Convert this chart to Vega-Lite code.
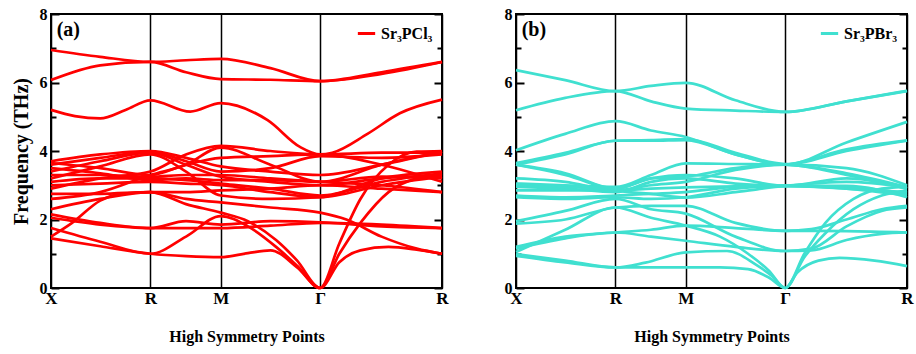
{
"$schema": "https://vega.github.io/schema/vega-lite/v6.json",
"padding": {"left": 10, "top": 5, "right": 5, "bottom": 5},
"background": "white",
"config": {
  "view": {"stroke": "black", "strokeWidth": 2},
  "font": "Liberation Serif",
  "axis": {"labelFont": "Liberation Serif", "labelFontWeight": "bold", "titleFont": "Liberation Serif", "titleFontWeight": "bold", "labelColor": "black", "titleColor": "black", "tickColor": "black", "domain": false},
  "legend": {"labelFont": "Liberation Serif", "labelFontWeight": "bold", "labelColor": "black"}
},
"datasets": {
"a": [
{"b":1,"k":0,"f":1.45},{"b":1,"k":0.35,"f":1.22},{"b":1,"k":0.707,"f":1.0},{"b":1,"k":0.96,"f":0.93},{"b":1,"k":1.207,"f":0.9},{"b":1,"k":1.4,"f":1.02},{"b":1,"k":1.56,"f":1.1},{"b":1,"k":1.75,"f":0.6},{"b":1,"k":1.914,"f":0},{"b":1,"k":2.05,"f":0.75},{"b":1,"k":2.2,"f":1.1},{"b":1,"k":2.4,"f":1.2},{"b":1,"k":2.6,"f":1.12},{"b":1,"k":2.78,"f":1.0},
{"b":2,"k":0,"f":1.75},{"b":2,"k":0.35,"f":1.35},{"b":2,"k":0.707,"f":1.0},{"b":2,"k":0.96,"f":1.5},{"b":2,"k":1.207,"f":2.1},{"b":2,"k":1.4,"f":1.8},{"b":2,"k":1.6,"f":1.2},{"b":2,"k":1.75,"f":0.65},{"b":2,"k":1.914,"f":0},{"b":2,"k":2.05,"f":1.0},{"b":2,"k":2.2,"f":1.9},{"b":2,"k":2.4,"f":2.8},{"b":2,"k":2.6,"f":3.2},{"b":2,"k":2.78,"f":3.3},
{"b":3,"k":0,"f":1.5},{"b":3,"k":0.15,"f":1.9},{"b":3,"k":0.35,"f":2.55},{"b":3,"k":0.5,"f":2.75},{"b":3,"k":0.707,"f":2.8},{"b":3,"k":0.96,"f":2.45},{"b":3,"k":1.207,"f":2.2},{"b":3,"k":1.4,"f":1.95},{"b":3,"k":1.6,"f":1.4},{"b":3,"k":1.75,"f":0.8},{"b":3,"k":1.914,"f":0},{"b":3,"k":2.05,"f":1.3},{"b":3,"k":2.2,"f":2.6},{"b":3,"k":2.4,"f":3.6},{"b":3,"k":2.6,"f":3.98},{"b":3,"k":2.78,"f":4.0},
{"b":4,"k":0,"f":2.05},{"b":4,"k":0.35,"f":1.85},{"b":4,"k":0.707,"f":1.75},{"b":4,"k":0.96,"f":1.75},{"b":4,"k":1.207,"f":1.75},{"b":4,"k":1.56,"f":1.82},{"b":4,"k":1.914,"f":1.9},{"b":4,"k":2.35,"f":1.85},{"b":4,"k":2.78,"f":1.75},
{"b":5,"k":0,"f":2.15},{"b":5,"k":0.35,"f":1.9},{"b":5,"k":0.707,"f":1.75},{"b":5,"k":0.96,"f":1.95},{"b":5,"k":1.207,"f":1.85},{"b":5,"k":1.56,"f":1.95},{"b":5,"k":1.914,"f":1.92},{"b":5,"k":2.35,"f":1.8},{"b":5,"k":2.78,"f":1.75},
{"b":6,"k":0,"f":2.3},{"b":6,"k":0.35,"f":2.6},{"b":6,"k":0.707,"f":2.8},{"b":6,"k":0.96,"f":2.6},{"b":6,"k":1.207,"f":2.5},{"b":6,"k":1.56,"f":2.35},{"b":6,"k":1.914,"f":2.2},{"b":6,"k":2.1,"f":2.0},{"b":6,"k":2.35,"f":1.5},{"b":6,"k":2.6,"f":1.15},{"b":6,"k":2.78,"f":1.0},
{"b":7,"k":0,"f":2.6},{"b":7,"k":0.35,"f":2.8},{"b":7,"k":0.707,"f":3.3},{"b":7,"k":0.96,"f":3.6},{"b":7,"k":1.207,"f":4.1},{"b":7,"k":1.56,"f":3.6},{"b":7,"k":1.914,"f":3.1},{"b":7,"k":2.35,"f":3.6},{"b":7,"k":2.78,"f":3.98},
{"b":8,"k":0,"f":2.75},{"b":8,"k":0.35,"f":2.75},{"b":8,"k":0.707,"f":2.8},{"b":8,"k":0.96,"f":2.8},{"b":8,"k":1.207,"f":2.85},{"b":8,"k":1.56,"f":2.9},{"b":8,"k":1.914,"f":3.0},{"b":8,"k":2.35,"f":2.9},{"b":8,"k":2.78,"f":2.8},
{"b":9,"k":0,"f":2.9},{"b":9,"k":0.35,"f":3.2},{"b":9,"k":0.707,"f":3.4},{"b":9,"k":0.96,"f":3.9},{"b":9,"k":1.207,"f":4.15},{"b":9,"k":1.56,"f":4.0},{"b":9,"k":1.914,"f":3.9},{"b":9,"k":2.35,"f":3.95},{"b":9,"k":2.78,"f":3.95},
{"b":10,"k":0,"f":3.0},{"b":10,"k":0.35,"f":3.05},{"b":10,"k":0.707,"f":3.1},{"b":10,"k":0.96,"f":3.05},{"b":10,"k":1.207,"f":3.0},{"b":10,"k":1.56,"f":2.8},{"b":10,"k":1.914,"f":2.65},{"b":10,"k":2.35,"f":3.0},{"b":10,"k":2.78,"f":3.25},
{"b":11,"k":0,"f":3.1},{"b":11,"k":0.35,"f":3.2},{"b":11,"k":0.707,"f":3.2},{"b":11,"k":0.96,"f":3.15},{"b":11,"k":1.207,"f":3.05},{"b":11,"k":1.56,"f":2.9},{"b":11,"k":1.914,"f":2.7},{"b":11,"k":2.35,"f":3.1},{"b":11,"k":2.78,"f":3.35},
{"b":12,"k":0,"f":3.2},{"b":12,"k":0.35,"f":3.55},{"b":12,"k":0.707,"f":3.9},{"b":12,"k":0.96,"f":3.4},{"b":12,"k":1.207,"f":2.7},{"b":12,"k":1.56,"f":2.6},{"b":12,"k":1.914,"f":2.65},{"b":12,"k":2.35,"f":3.2},{"b":12,"k":2.78,"f":3.4},
{"b":13,"k":0,"f":3.3},{"b":13,"k":0.35,"f":3.3},{"b":13,"k":0.707,"f":3.25},{"b":13,"k":0.96,"f":3.3},{"b":13,"k":1.207,"f":3.3},{"b":13,"k":1.56,"f":3.2},{"b":13,"k":1.914,"f":3.1},{"b":13,"k":2.35,"f":3.0},{"b":13,"k":2.78,"f":2.8},
{"b":14,"k":0,"f":3.4},{"b":14,"k":0.35,"f":3.7},{"b":14,"k":0.707,"f":3.95},{"b":14,"k":0.96,"f":3.6},{"b":14,"k":1.207,"f":3.25},{"b":14,"k":1.56,"f":3.1},{"b":14,"k":1.914,"f":3.0},{"b":14,"k":2.35,"f":3.2},{"b":14,"k":2.78,"f":3.3},
{"b":15,"k":0,"f":3.5},{"b":15,"k":0.35,"f":3.35},{"b":15,"k":0.707,"f":3.15},{"b":15,"k":0.96,"f":3.2},{"b":15,"k":1.207,"f":3.15},{"b":15,"k":1.56,"f":3.15},{"b":15,"k":1.914,"f":3.1},{"b":15,"k":2.35,"f":3.25},{"b":15,"k":2.78,"f":3.2},
{"b":16,"k":0,"f":3.6},{"b":16,"k":0.35,"f":3.8},{"b":16,"k":0.707,"f":3.98},{"b":16,"k":0.96,"f":3.7},{"b":16,"k":1.207,"f":3.4},{"b":16,"k":1.56,"f":3.5},{"b":16,"k":1.914,"f":3.85},{"b":16,"k":2.35,"f":3.8},{"b":16,"k":2.78,"f":3.9},
{"b":17,"k":0,"f":3.65},{"b":17,"k":0.35,"f":3.5},{"b":17,"k":0.707,"f":3.3},{"b":17,"k":0.96,"f":3.6},{"b":17,"k":1.207,"f":3.8},{"b":17,"k":1.56,"f":3.85},{"b":17,"k":1.914,"f":3.9},{"b":17,"k":2.35,"f":3.6},{"b":17,"k":2.78,"f":3.1},
{"b":18,"k":0,"f":3.7},{"b":18,"k":0.35,"f":3.9},{"b":18,"k":0.707,"f":4.0},{"b":18,"k":0.96,"f":3.8},{"b":18,"k":1.207,"f":3.55},{"b":18,"k":1.56,"f":3.4},{"b":18,"k":1.914,"f":3.3},{"b":18,"k":2.35,"f":3.6},{"b":18,"k":2.78,"f":3.98},
{"b":19,"k":0,"f":5.2},{"b":19,"k":0.17,"f":5.02},{"b":19,"k":0.35,"f":4.95},{"b":19,"k":0.53,"f":5.2},{"b":19,"k":0.707,"f":5.48},{"b":19,"k":0.99,"f":5.15},{"b":19,"k":1.207,"f":5.4},{"b":19,"k":1.54,"f":4.9},{"b":19,"k":1.77,"f":4.12},{"b":19,"k":1.914,"f":3.9},{"b":19,"k":2.0,"f":3.95},{"b":19,"k":2.25,"f":4.5},{"b":19,"k":2.48,"f":5.1},{"b":19,"k":2.78,"f":5.5},
{"b":20,"k":0,"f":6.07},{"b":20,"k":0.35,"f":6.5},{"b":20,"k":0.707,"f":6.6},{"b":20,"k":0.96,"f":6.3},{"b":20,"k":1.207,"f":6.1},{"b":20,"k":1.56,"f":6.08},{"b":20,"k":1.914,"f":6.04},{"b":20,"k":2.35,"f":6.25},{"b":20,"k":2.78,"f":6.6},
{"b":21,"k":0,"f":6.95},{"b":21,"k":0.35,"f":6.75},{"b":21,"k":0.707,"f":6.6},{"b":21,"k":0.96,"f":6.65},{"b":21,"k":1.207,"f":6.69},{"b":21,"k":1.56,"f":6.42},{"b":21,"k":1.914,"f":6.04},{"b":21,"k":2.35,"f":6.3},{"b":21,"k":2.78,"f":6.6}
],
"b": [
{"b":1,"k":0,"f":0.94},{"b":1,"k":0.35,"f":0.75},{"b":1,"k":0.707,"f":0.6},{"b":1,"k":0.96,"f":0.6},{"b":1,"k":1.207,"f":0.6},{"b":1,"k":1.45,"f":0.6},{"b":1,"k":1.65,"f":0.55},{"b":1,"k":1.8,"f":0.3},{"b":1,"k":1.914,"f":0},{"b":1,"k":2.0,"f":0.45},{"b":1,"k":2.15,"f":0.8},{"b":1,"k":2.3,"f":0.88},{"b":1,"k":2.55,"f":0.8},{"b":1,"k":2.78,"f":0.64},
{"b":2,"k":0,"f":0.99},{"b":2,"k":0.35,"f":0.8},{"b":2,"k":0.707,"f":0.6},{"b":2,"k":0.92,"f":0.74},{"b":2,"k":1.207,"f":1.04},{"b":2,"k":1.5,"f":1.08},{"b":2,"k":1.7,"f":0.7},{"b":2,"k":1.82,"f":0.35},{"b":2,"k":1.914,"f":0},{"b":2,"k":2.05,"f":0.9},{"b":2,"k":2.2,"f":1.6},{"b":2,"k":2.4,"f":2.3},{"b":2,"k":2.6,"f":2.7},{"b":2,"k":2.78,"f":2.85},
{"b":3,"k":0,"f":1.05},{"b":3,"k":0.35,"f":1.7},{"b":3,"k":0.707,"f":2.35},{"b":3,"k":0.96,"f":2.05},{"b":3,"k":1.207,"f":1.82},{"b":3,"k":1.45,"f":1.5},{"b":3,"k":1.65,"f":1.0},{"b":3,"k":1.8,"f":0.5},{"b":3,"k":1.914,"f":0},{"b":3,"k":2.05,"f":1.0},{"b":3,"k":2.2,"f":1.9},{"b":3,"k":2.4,"f":2.6},{"b":3,"k":2.6,"f":2.9},{"b":3,"k":2.78,"f":2.95},
{"b":4,"k":0,"f":1.15},{"b":4,"k":0.35,"f":1.45},{"b":4,"k":0.707,"f":1.62},{"b":4,"k":0.96,"f":1.5},{"b":4,"k":1.207,"f":1.38},{"b":4,"k":1.56,"f":1.2},{"b":4,"k":1.914,"f":1.08},{"b":4,"k":2.1,"f":1.1},{"b":4,"k":2.35,"f":1.4},{"b":4,"k":2.6,"f":1.58},{"b":4,"k":2.78,"f":1.62},
{"b":5,"k":0,"f":1.2},{"b":5,"k":0.35,"f":1.5},{"b":5,"k":0.707,"f":1.62},{"b":5,"k":0.96,"f":1.7},{"b":5,"k":1.207,"f":1.82},{"b":5,"k":1.56,"f":1.75},{"b":5,"k":1.914,"f":1.67},{"b":5,"k":2.35,"f":1.66},{"b":5,"k":2.78,"f":1.62},
{"b":6,"k":0,"f":1.88},{"b":6,"k":0.35,"f":2.0},{"b":6,"k":0.707,"f":2.35},{"b":6,"k":0.96,"f":2.4},{"b":6,"k":1.207,"f":2.4},{"b":6,"k":1.56,"f":1.9},{"b":6,"k":1.914,"f":1.67},{"b":6,"k":2.1,"f":1.72},{"b":6,"k":2.35,"f":2.0},{"b":6,"k":2.6,"f":2.3},{"b":6,"k":2.78,"f":2.4},
{"b":7,"k":0,"f":1.95},{"b":7,"k":0.35,"f":2.25},{"b":7,"k":0.707,"f":2.6},{"b":7,"k":0.96,"f":2.3},{"b":7,"k":1.207,"f":2.17},{"b":7,"k":1.56,"f":1.5},{"b":7,"k":1.914,"f":1.08},{"b":7,"k":2.1,"f":1.15},{"b":7,"k":2.35,"f":1.8},{"b":7,"k":2.6,"f":2.25},{"b":7,"k":2.78,"f":2.35},
{"b":8,"k":0,"f":2.65},{"b":8,"k":0.35,"f":2.6},{"b":8,"k":0.707,"f":2.65},{"b":8,"k":0.96,"f":2.6},{"b":8,"k":1.207,"f":2.65},{"b":8,"k":1.56,"f":2.9},{"b":8,"k":1.914,"f":2.98},{"b":8,"k":2.35,"f":2.9},{"b":8,"k":2.78,"f":2.7},
{"b":9,"k":0,"f":2.7},{"b":9,"k":0.35,"f":2.65},{"b":9,"k":0.707,"f":2.7},{"b":9,"k":0.96,"f":2.75},{"b":9,"k":1.207,"f":2.8},{"b":9,"k":1.56,"f":2.95},{"b":9,"k":1.914,"f":2.98},{"b":9,"k":2.35,"f":2.95},{"b":9,"k":2.78,"f":2.75},
{"b":10,"k":0,"f":2.85},{"b":10,"k":0.35,"f":2.85},{"b":10,"k":0.707,"f":2.85},{"b":10,"k":0.96,"f":2.9},{"b":10,"k":1.207,"f":2.94},{"b":10,"k":1.56,"f":2.97},{"b":10,"k":1.914,"f":2.98},{"b":10,"k":2.35,"f":2.9},{"b":10,"k":2.78,"f":2.8},
{"b":11,"k":0,"f":2.95},{"b":11,"k":0.35,"f":2.9},{"b":11,"k":0.707,"f":2.8},{"b":11,"k":0.96,"f":3.1},{"b":11,"k":1.207,"f":3.2},{"b":11,"k":1.56,"f":3.05},{"b":11,"k":1.914,"f":2.98},{"b":11,"k":2.35,"f":3.2},{"b":11,"k":2.78,"f":2.9},
{"b":12,"k":0,"f":3.0},{"b":12,"k":0.35,"f":2.95},{"b":12,"k":0.707,"f":2.9},{"b":12,"k":0.96,"f":3.2},{"b":12,"k":1.207,"f":3.3},{"b":12,"k":1.56,"f":3.2},{"b":12,"k":1.914,"f":2.98},{"b":12,"k":2.35,"f":2.98},{"b":12,"k":2.78,"f":2.65},
{"b":13,"k":0,"f":3.05},{"b":13,"k":0.35,"f":3.0},{"b":13,"k":0.707,"f":2.95},{"b":13,"k":0.96,"f":3.3},{"b":13,"k":1.207,"f":3.64},{"b":13,"k":1.56,"f":3.62},{"b":13,"k":1.914,"f":3.6},{"b":13,"k":2.35,"f":3.35},{"b":13,"k":2.78,"f":2.95},
{"b":14,"k":0,"f":3.2},{"b":14,"k":0.35,"f":3.1},{"b":14,"k":0.707,"f":2.85},{"b":14,"k":0.96,"f":3.0},{"b":14,"k":1.207,"f":3.1},{"b":14,"k":1.56,"f":3.45},{"b":14,"k":1.914,"f":3.6},{"b":14,"k":2.35,"f":3.3},{"b":14,"k":2.78,"f":2.9},
{"b":15,"k":0,"f":3.6},{"b":15,"k":0.35,"f":3.3},{"b":15,"k":0.707,"f":2.85},{"b":15,"k":0.96,"f":2.75},{"b":15,"k":1.207,"f":2.64},{"b":15,"k":1.56,"f":2.8},{"b":15,"k":1.914,"f":2.98},{"b":15,"k":2.35,"f":3.1},{"b":15,"k":2.78,"f":2.95},
{"b":16,"k":0,"f":3.6},{"b":16,"k":0.35,"f":3.35},{"b":16,"k":0.707,"f":2.9},{"b":16,"k":0.96,"f":3.2},{"b":16,"k":1.207,"f":3.25},{"b":16,"k":1.56,"f":3.5},{"b":16,"k":1.914,"f":3.6},{"b":16,"k":2.35,"f":3.5},{"b":16,"k":2.78,"f":3.0},
{"b":17,"k":0,"f":3.6},{"b":17,"k":0.35,"f":3.9},{"b":17,"k":0.707,"f":4.3},{"b":17,"k":0.96,"f":4.3},{"b":17,"k":1.207,"f":4.32},{"b":17,"k":1.56,"f":3.9},{"b":17,"k":1.914,"f":3.6},{"b":17,"k":2.35,"f":4.0},{"b":17,"k":2.78,"f":4.3},
{"b":18,"k":0,"f":3.65},{"b":18,"k":0.35,"f":3.95},{"b":18,"k":0.707,"f":4.3},{"b":18,"k":0.96,"f":4.32},{"b":18,"k":1.207,"f":4.35},{"b":18,"k":1.56,"f":3.95},{"b":18,"k":1.914,"f":3.62},{"b":18,"k":2.35,"f":4.05},{"b":18,"k":2.78,"f":4.31},
{"b":19,"k":0,"f":4.02},{"b":19,"k":0.35,"f":4.5},{"b":19,"k":0.707,"f":4.87},{"b":19,"k":0.96,"f":4.6},{"b":19,"k":1.207,"f":4.41},{"b":19,"k":1.56,"f":3.9},{"b":19,"k":1.914,"f":3.6},{"b":19,"k":2.35,"f":4.25},{"b":19,"k":2.78,"f":4.85},
{"b":20,"k":0,"f":5.19},{"b":20,"k":0.35,"f":5.55},{"b":20,"k":0.707,"f":5.75},{"b":20,"k":0.96,"f":5.45},{"b":20,"k":1.207,"f":5.24},{"b":20,"k":1.56,"f":5.18},{"b":20,"k":1.914,"f":5.14},{"b":20,"k":2.35,"f":5.45},{"b":20,"k":2.78,"f":5.75},
{"b":21,"k":0,"f":6.36},{"b":21,"k":0.35,"f":6.07},{"b":21,"k":0.707,"f":5.75},{"b":21,"k":0.96,"f":5.9},{"b":21,"k":1.207,"f":5.99},{"b":21,"k":1.56,"f":5.48},{"b":21,"k":1.914,"f":5.14},{"b":21,"k":2.35,"f":5.45},{"b":21,"k":2.78,"f":5.76}
]
},
"hconcat": [
{
  "width": 391, "height": 274,
  "resolve": {"axis": {"y": "independent"}},
  "layer": [
    {
      "data": {"name": "a"},
      "mark": {"type": "line", "interpolate": "monotone", "strokeWidth": 2.7},
      "encoding": {
        "x": {"field": "k", "type": "quantitative", "scale": {"domain": [0, 2.78], "nice": false, "zero": false},
              "axis": {"values": [0, 0.707, 1.207, 1.914, 2.78], "labelExpr": "datum.value < 0.1 ? 'X' : datum.value < 1 ? 'R' : datum.value < 1.5 ? 'M' : datum.value < 2 ? 'Γ' : 'R'", "grid": true, "gridColor": "black", "gridWidth": 1.5, "gridOpacity": 1, "ticks": false, "labelFontSize": 17, "labelPadding": 2, "labelFlush": false, "title": "High Symmetry Points", "titleFontSize": 16, "titlePadding": 22}},
        "y": {"field": "f", "type": "quantitative", "scale": {"domain": [0, 8], "nice": false},
              "axis": {"orient": "left", "values": [0,1,2,3,4,5,6,7,8], "labelExpr": "datum.value % 2 == 0 ? datum.label : ''", "tickSize": {"condition": {"test": "datum.value % 2 == 0", "value": -8}, "value": -5}, "tickWidth": 2, "labelFontSize": 16, "labelPadding": 12, "grid": false, "title": "Frequency (THz)", "titleFontSize": 20, "titlePadding": 8}},
        "detail": {"field": "b", "type": "nominal"},
        "color": {"datum": "Sr₃PCl₃", "type": "nominal", "scale": {"range": ["#ff0000"]},
                  "legend": {"orient": "top-right", "title": null, "symbolType": "stroke", "symbolStrokeWidth": 3, "symbolSize": 300, "labelFontSize": 16, "offset": 9}}
      }
    },
    {
      "data": {"values": [{"k": 0.04, "f": 7.53, "t": "(a)"}]},
      "mark": {"type": "text", "align": "left", "baseline": "middle", "fontSize": 20, "fontWeight": "bold", "font": "Liberation Serif", "color": "black"},
      "encoding": {
        "x": {"field": "k", "type": "quantitative"},
        "y": {"field": "f", "type": "quantitative",
              "axis": {"orient": "right", "values": [0,1,2,3,4,5,6,7,8], "labels": false, "tickSize": {"condition": {"test": "datum.value % 2 == 0", "value": -8}, "value": -5}, "tickWidth": 2, "grid": false, "title": null}},
        "text": {"field": "t"}
      }
    }
  ]
},
{
  "width": 391, "height": 274,
  "resolve": {"axis": {"y": "independent"}},
  "layer": [
    {
      "data": {"name": "b"},
      "mark": {"type": "line", "interpolate": "monotone", "strokeWidth": 2.7},
      "encoding": {
        "x": {"field": "k", "type": "quantitative", "scale": {"domain": [0, 2.78], "nice": false, "zero": false},
              "axis": {"values": [0, 0.707, 1.207, 1.914, 2.78], "labelExpr": "datum.value < 0.1 ? 'X' : datum.value < 1 ? 'R' : datum.value < 1.5 ? 'M' : datum.value < 2 ? 'Γ' : 'R'", "grid": true, "gridColor": "black", "gridWidth": 1.5, "gridOpacity": 1, "ticks": false, "labelFontSize": 17, "labelPadding": 2, "labelFlush": false, "title": "High Symmetry Points", "titleFontSize": 16, "titlePadding": 22}},
        "y": {"field": "f", "type": "quantitative", "scale": {"domain": [0, 8], "nice": false},
              "axis": {"orient": "left", "values": [0,1,2,3,4,5,6,7,8], "labelExpr": "datum.value % 2 == 0 ? datum.label : ''", "tickSize": {"condition": {"test": "datum.value % 2 == 0", "value": -8}, "value": -5}, "tickWidth": 2, "labelFontSize": 16, "labelPadding": 12, "grid": false, "title": null}},
        "detail": {"field": "b", "type": "nominal"},
        "color": {"datum": "Sr₃PBr₃", "type": "nominal", "scale": {"range": ["#40e0d0"]},
                  "legend": {"orient": "top-right", "title": null, "symbolType": "stroke", "symbolStrokeWidth": 3, "symbolSize": 300, "labelFontSize": 16, "offset": 9}}
      }
    },
    {
      "data": {"values": [{"k": 0.04, "f": 7.53, "t": "(b)"}]},
      "mark": {"type": "text", "align": "left", "baseline": "middle", "fontSize": 20, "fontWeight": "bold", "font": "Liberation Serif", "color": "black"},
      "encoding": {
        "x": {"field": "k", "type": "quantitative"},
        "y": {"field": "f", "type": "quantitative",
              "axis": {"orient": "right", "values": [0,1,2,3,4,5,6,7,8], "labels": false, "tickSize": {"condition": {"test": "datum.value % 2 == 0", "value": -8}, "value": -5}, "tickWidth": 2, "grid": false, "title": null}},
        "text": {"field": "t"}
      }
    }
  ]
}
],
"spacing": 53,
"resolve": {"scale": {"color": "independent"}, "legend": {"color": "independent"}}
}
